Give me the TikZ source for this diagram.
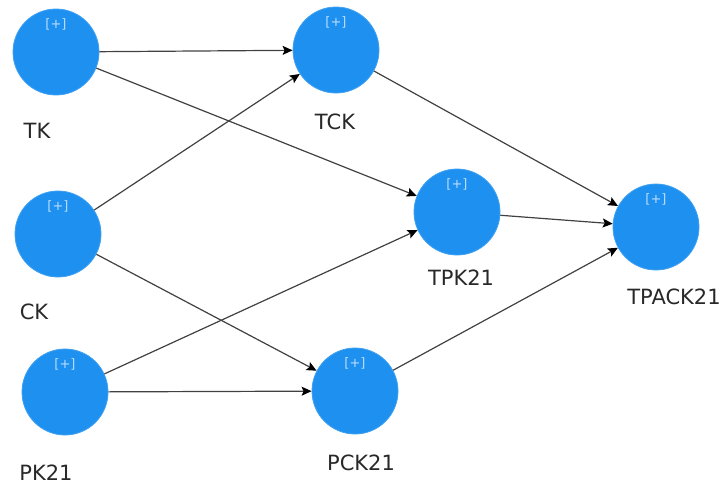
\documentclass[tikz,border=0pt]{standalone}
\usepackage{fontspec}
\setmainfont{DejaVu Sans}
\usepackage{tikz}
\usetikzlibrary{shapes,arrows.meta}
\definecolor{latentblue}{RGB}{30,144,240}
\definecolor{plusblue}{RGB}{185,222,255}
\definecolor{labelgray}{RGB}{40,40,40}
\definecolor{pathgray}{RGB}{65,65,65}

\begin{document}
\begin{tikzpicture}[x=0.5pt,y=-0.5pt,
latent/.style={circle,fill=latentblue,draw=latentblue!85,minimum size=43pt,inner sep=0pt,
  label={[plustag]north:{[+]}}},
plustag/.style={anchor=center,yshift=-8pt,font=\fontsize{6.5}{7}\selectfont,text=plusblue},
conname/.style={font=\fontsize{10.5}{12}\selectfont,text=labelgray},
relpath/.style={draw=pathgray,line width=0.6pt,-{Stealth[black,length=5pt,width=4.5pt,inset=1pt]}}]
\useasboundingbox (0,0) rectangle (724,488);
\node (TK) [latent] at (56,52) {};
\node (CK) [latent] at (58,234) {};
\node (PK) [latent] at (65,392) {};
\node (TCK) [latent] at (336,50) {};
\node (TPK) [latent] at (457,212) {};
\node (PCK) [latent] at (355,391) {};
\node (TPACK) [latent] at (656,227) {};
\node (TKname) [conname] at (37,131) {TK};
\node (CKname) [conname] at (34,312) {CK};
\node (PKname) [conname] at (46,473) {PK21};
\node (TCKname) [conname] at (335,122) {TCK};
\node (TPKname) [conname] at (461,278) {TPK21};
\node (PCKname) [conname] at (361,463) {PCK21};
\node (TPACKname) [conname] at (674,297) {TPACK21};
\draw [relpath] (TK) -- (TCK);
\draw [relpath] (TK) -- (TPK);
\draw [relpath] (CK) -- (TCK);
\draw [relpath] (CK) -- (PCK);
\draw [relpath] (PK) -- (TPK);
\draw [relpath] (PK) -- (PCK);
\draw [relpath] (TCK) -- (TPACK);
\draw [relpath] (TPK) -- (TPACK);
\draw [relpath] (PCK) -- (TPACK);
\end{tikzpicture}
\end{document}
